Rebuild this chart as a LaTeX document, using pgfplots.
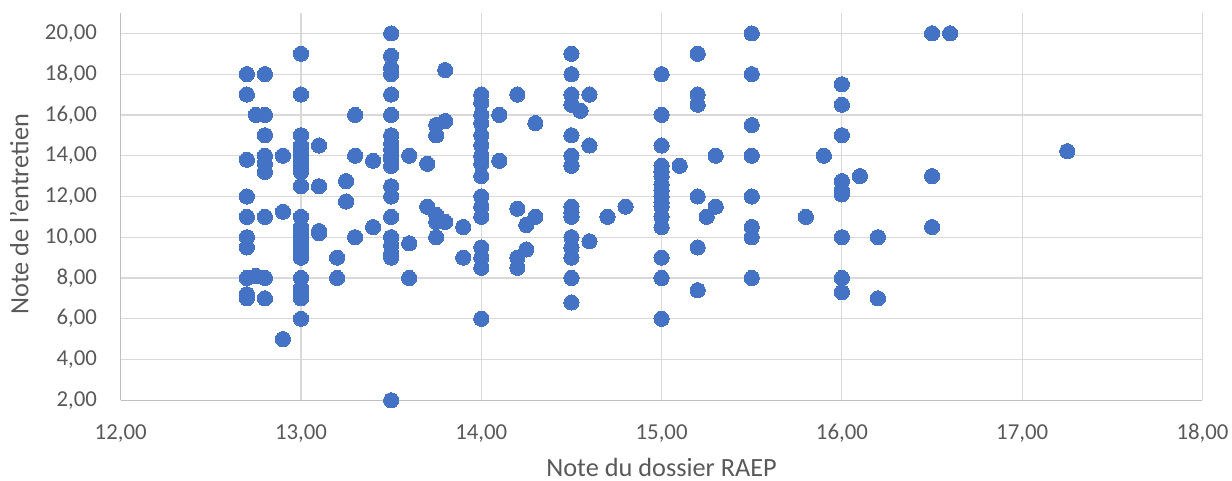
\documentclass[border=0pt]{standalone}
\usepackage{fontspec}
\setmainfont{Carlito}
\usepackage{pgfplots}
\pgfplotsset{compat=1.18}
\definecolor{mk}{HTML}{4472C4}
\definecolor{gridc}{HTML}{D9D9D9}
\definecolor{axc}{HTML}{BFBFBF}
\definecolor{txt}{HTML}{595959}
\begin{document}
\begin{tikzpicture}
\path[use as bounding box] (-60.35pt,-40.35pt) rectangle (555.65pt,200.15pt);
\begin{axis}[
  scale only axis,
  width=540.9pt, height=193.65pt,
  xmin=12, xmax=18, ymin=2, ymax=21,
  xtick={12,13,14,15,16,17,18},
  ytick={2,4,6,8,10,12,14,16,18,20},
  grid=major,
  major grid style={draw=gridc, line width=0.6pt},
  axis x line=bottom, axis y line=left,
  axis line style={-, draw=axc, line width=0.7pt},
  major tick length=0pt,
  clip=false,
  /pgf/number format/.cd, fixed, fixed zerofill, precision=2, use comma, assume math mode=true,
  /pgfplots/.cd,
  tick label style={font=\fontsize{11.4pt}{13pt}\selectfont, text=txt},
  xticklabel style={anchor=base, inner sep=0pt, yshift=-19.5pt},
  yticklabel style={anchor=east, inner sep=0pt, xshift=-11.7pt},
  every axis x label/.style={at={(axis description cs:0.5,-0.198)}, anchor=base, inner sep=0pt, font=\fontsize{13.15pt}{15pt}\selectfont, text=txt},
  every axis y label/.style={at={(axis description cs:-0.08541,0.4805)}, rotate=90, anchor=base, inner sep=0pt, font=\fontsize{13.15pt}{15pt}\selectfont, text=txt},
  xlabel={Note du dossier RAEP},
  ylabel={Note de l'entretien},
]
\addplot[only marks, color=mk, mark=*, mark size=3.8pt, mark options={draw=mk, fill=mk, line width=0pt}] table {
x y
12.7 18
12.7 17
12.7 13.8
12.7 12
12.7 11
12.7 10
12.7 9.5
12.7 8
12.7 7.2
12.7 7.0
12.75 16
12.75 8.1
12.8 18
12.8 16
12.8 15
12.8 14.0
12.8 13.6
12.8 13.2
12.8 11
12.8 8
12.8 7
12.9 14.0
12.9 11.25
12.9 5.0
13.0 19
13.0 17
13.0 15
13.0 14.5
13.0 14.2
13.0 14.0
13.0 13.8
13.0 13.5
13.0 13.2
13.0 12.5
13.0 11.0
13.0 10.5
13.0 10.2
13.0 10.0
13.0 9.7
13.0 9.5
13.0 9.2
13.0 9.0
13.0 8.0
13.0 7.5
13.0 7.2
13.0 7.0
13.0 6.0
13.1 14.5
13.1 12.5
13.1 10.3
13.1 10.2
13.2 9.0
13.2 8.0
13.25 12.75
13.25 11.75
13.3 16
13.3 14
13.3 10
13.4 13.75
13.4 10.5
13.5 20
13.5 18.9
13.5 18.3
13.5 18.0
13.5 17
13.5 16
13.5 15
13.5 14.6
13.5 14.3
13.5 14.0
13.5 13.8
13.5 13.5
13.5 12.5
13.5 12.0
13.5 11.0
13.5 10.0
13.5 9.6
13.5 9.2
13.5 9.0
13.5 2.0
13.6 14.0
13.6 9.7
13.6 8.0
13.7 13.6
13.7 11.5
13.75 15.5
13.75 15.0
13.75 11.1
13.75 10.75
13.75 10.0
13.8 18.2
13.8 15.7
13.8 10.75
13.9 10.5
13.9 9.0
14.0 17
14.0 16.6
14.0 16.0
14.0 15.6
14.0 15.0
14.0 14.5
14.0 14.0
14.0 13.6
14.0 13.0
14.0 12.0
14.0 11.5
14.0 11.0
14.0 9.5
14.0 9.0
14.0 8.5
14.0 6.0
14.1 16.0
14.1 13.75
14.2 17.0
14.2 11.4
14.2 9.0
14.2 8.5
14.25 10.6
14.25 9.4
14.3 15.6
14.3 11.0
14.5 19
14.5 18
14.5 17
14.5 16.5
14.5 15
14.5 14
14.5 13.5
14.5 11.5
14.5 11.2
14.5 11.0
14.5 10.0
14.5 9.5
14.5 9.0
14.5 8.0
14.5 6.8
14.55 16.2
14.6 17
14.6 14.5
14.6 9.8
14.7 11.0
14.8 11.5
15.0 18
15.0 16
15.0 14.5
15.0 13.5
15.0 13.2
15.0 13.0
15.0 12.6
15.0 12.3
15.0 12.0
15.0 11.7
15.0 11.5
15.0 11.0
15.0 10.5
15.0 9.0
15.0 8.0
15.0 6.0
15.1 13.5
15.2 19
15.2 17
15.2 16.5
15.2 12
15.2 9.5
15.2 7.4
15.25 11.0
15.3 14.0
15.3 11.5
15.5 20
15.5 18
15.5 15.5
15.5 14
15.5 12
15.5 10.5
15.5 10.0
15.5 8.0
15.8 11.0
15.9 14.0
16.0 17.5
16.0 16.5
16.0 15.0
16.0 12.75
16.0 12.3
16.0 12.1
16.0 10.0
16.0 8.0
16.0 7.3
16.1 13.0
16.2 10.0
16.2 7.0
16.5 20
16.5 13.0
16.5 10.5
16.6 20
17.25 14.22
};
\end{axis}
\end{tikzpicture}
\end{document}
